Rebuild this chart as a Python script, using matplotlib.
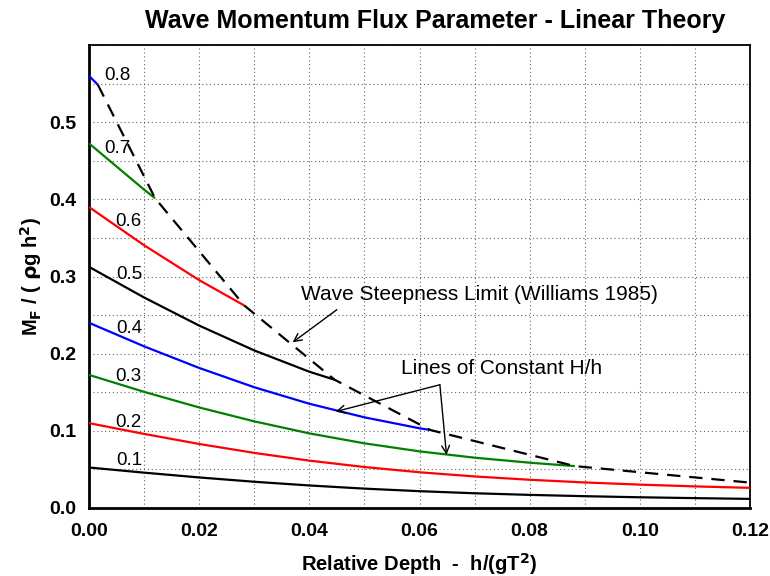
import matplotlib
matplotlib.use("Agg")
import matplotlib.pyplot as plt

plt.rcParams['font.family'] = ['Liberation Sans', 'DejaVu Sans']

# Relative depth h/(gT^2) sample points
x_full = [0.0, 0.01, 0.02, 0.03, 0.04, 0.05, 0.06, 0.07, 0.08, 0.09, 0.10, 0.11, 0.12]

# Lines of constant H/h : (x values, MF/(rho g h^2) values)
h01_x = x_full
h01_y = [0.0525, 0.0458, 0.0396, 0.0340, 0.0292, 0.0251, 0.0218, 0.0191, 0.0170, 0.0153, 0.0139, 0.0128, 0.0118]
h02_x = x_full
h02_y = [0.1100, 0.0960, 0.0830, 0.0714, 0.0614, 0.0531, 0.0463, 0.0409, 0.0366, 0.0331, 0.0303, 0.0280, 0.0261]
h03_x = [0.0, 0.01, 0.02, 0.03, 0.04, 0.05, 0.06, 0.07, 0.08, 0.0882]
h03_y = [0.1725, 0.1505, 0.1303, 0.1123, 0.0967, 0.0838, 0.0734, 0.0652, 0.0587, 0.0543]
h04_x = [0.0, 0.01, 0.02, 0.03, 0.04, 0.05, 0.06, 0.0619]
h04_y = [0.2400, 0.2095, 0.1815, 0.1565, 0.1351, 0.1175, 0.1033, 0.1012]
h05_x = [0.0, 0.01, 0.02, 0.03, 0.04, 0.0446]
h05_y = [0.3125, 0.2728, 0.2364, 0.2042, 0.1766, 0.1662]
h06_x = [0.0, 0.01, 0.02, 0.0282]
h06_y = [0.3900, 0.3405, 0.2953, 0.2624]
h07_x = [0.0, 0.01, 0.012]
h07_y = [0.4725, 0.4126, 0.4014]
h08_x = [0.0, 0.0016]
h08_y = [0.5600, 0.5486]

# Wave steepness limit (Williams 1985)
lim_x = [0.0016, 0.012, 0.0282, 0.0446, 0.0619, 0.0882, 0.12]
lim_y = [0.5486, 0.4014, 0.2624, 0.1662, 0.1012, 0.0543, 0.0329]

line_labels = ['0.1', '0.2', '0.3', '0.4', '0.5', '0.6', '0.7', '0.8']
label_x = [0.0073, 0.0071, 0.0071, 0.0073, 0.0073, 0.0071, 0.0051, 0.0051]
label_y = [0.061, 0.111, 0.1708, 0.2325, 0.3026, 0.371, 0.466, 0.561]

x_ticks = [0.00, 0.02, 0.04, 0.06, 0.08, 0.10, 0.12]
x_ticklabels = ['0.00', '0.02', '0.04', '0.06', '0.08', '0.10', '0.12']
y_ticks = [0.0, 0.1, 0.2, 0.3, 0.4, 0.5]
y_ticklabels = ['0.0', '0.1', '0.2', '0.3', '0.4', '0.5']

colors = ['black', 'red', 'green', 'blue', 'black', 'red', 'green', 'blue']

fig = plt.figure(figsize=(7.7, 5.76), dpi=100)
ax = fig.add_axes([89/770, 1 - 508/576, (750 - 89)/770, (508 - 45)/576])

series = [(h01_x, h01_y), (h02_x, h02_y), (h03_x, h03_y), (h04_x, h04_y),
          (h05_x, h05_y), (h06_x, h06_y), (h07_x, h07_y), (h08_x, h08_y)]
for (xs, ys), c in zip(series, colors):
    ax.plot(xs, ys, color=c, lw=1.6, solid_capstyle='butt', zorder=3)

ax.plot(lim_x, lim_y, color='black', lw=1.6, dashes=(6, 4), zorder=4)

for t, lx, ly in zip(line_labels, label_x, label_y):
    ax.text(lx, ly, t, fontsize=13.5, ha='center', va='center', zorder=5)

ax.set_xlim(0, 0.12)
ax.set_ylim(0, 0.6)

ax.set_xticks([i * 0.01 for i in range(13)], minor=True)
ax.set_yticks([i * 0.05 for i in range(13)], minor=True)
ax.set_xticks(x_ticks)
ax.set_xticklabels(x_ticklabels)
ax.set_yticks(y_ticks)
ax.set_yticklabels(y_ticklabels)
ax.tick_params(which='both', length=0, labelsize=14)
ax.tick_params(axis='x', pad=11)
ax.tick_params(axis='y', pad=9)
for lab in ax.get_xticklabels() + ax.get_yticklabels():
    lab.set_fontweight('bold')

ax.grid(which='both', color='#333333', linestyle=(0, (1, 2.5)), lw=0.8, alpha=0.75)
ax.set_axisbelow(True)

for side in ['left', 'bottom']:
    ax.spines[side].set_linewidth(2.0)
for side in ['top', 'right']:
    ax.spines[side].set_linewidth(1.3)

ax.set_xlabel(r'Relative Depth  -  h/(gT$^{\mathbf{2}}$)', fontsize=14.5, fontweight='bold', labelpad=8)
ax.set_ylabel(r'M$_{\mathbf{F}}$ / ( $\mathbf{\rho}$g h$^{\mathbf{2}}$)', fontsize=14.5, fontweight='bold', labelpad=4)
ax.set_title('Wave Momentum Flux Parameter - Linear Theory', fontsize=18, fontweight='bold',
             pad=12, x=0.524)

ax.annotate('', xy=(0.03697, 0.2147), xytext=(0.045, 0.257),
            arrowprops=dict(arrowstyle='->', color='black', lw=1.0, mutation_scale=14,
                            shrinkA=0, shrinkB=0), zorder=6)
ax.text(0.07096, 0.2766, 'Wave Steepness Limit (Williams 1985)', fontsize=15,
        ha='center', va='center', zorder=6)

ax.annotate('', xy=(0.0448, 0.125), xytext=(0.0637, 0.1597),
            arrowprops=dict(arrowstyle='->', color='black', lw=1.0, mutation_scale=14,
                            shrinkA=0, shrinkB=0), zorder=6)
ax.annotate('', xy=(0.0649, 0.0688), xytext=(0.0637, 0.1597),
            arrowprops=dict(arrowstyle='->', color='black', lw=1.0, mutation_scale=14,
                            shrinkA=0, shrinkB=0), zorder=6)
ax.text(0.07486, 0.1805, 'Lines of Constant H/h', fontsize=15,
        ha='center', va='center', zorder=6)

fig.savefig('out.png', dpi=100)
